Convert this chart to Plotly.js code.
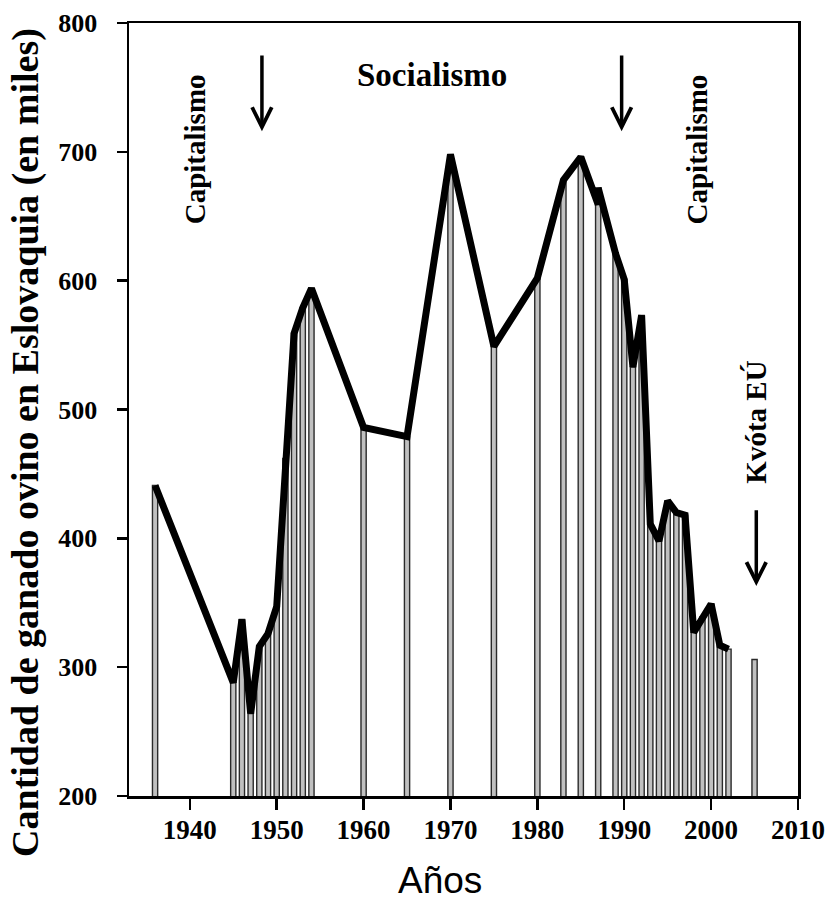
<!DOCTYPE html>
<html>
<head>
<meta charset="utf-8">
<script src="https://cdn.plot.ly/plotly-3.0.1.min.js"></script>
<style>html,body{margin:0;padding:0;background:#fff;}#chart{width:831px;height:906px;}</style>
</head>
<body>
<div id="chart"></div>
<script>
// Bars (years with a bar and its value, in thousands)
const barYears = [1936, 1945, 1946, 1947, 1948, 1949, 1950, 1951, 1952, 1953, 1954,
  1960, 1965, 1970, 1975, 1980, 1983, 1985, 1987, 1989, 1990, 1991, 1992, 1993,
  1994, 1995, 1996, 1997, 1998, 1999, 2000, 2001, 2002, 2005];
const barValues = [441, 288, 337, 264, 316, 326, 347, 462, 559, 579, 594,
  486, 479, 698, 549, 602, 678, 696, 672, 621, 601, 533, 573, 411,
  398, 429, 420, 418, 327, 339, 349, 317, 314, 306];

// Thick line
const lineYears = [1936, 1945, 1946, 1947, 1948, 1949, 1950, 1951, 1952, 1953, 1954,
  1960, 1965, 1970, 1975, 1980, 1983, 1985, 1987, 1987, 1989, 1990, 1991, 1992,
  1993, 1994, 1995, 1996, 1997, 1998, 1999, 2000, 2001, 2002];
const lineValues = [441, 288, 337, 264, 316, 326, 347, 462, 559, 579, 594,
  486, 479, 698, 549, 602, 678, 696, 659, 672, 621, 601, 533, 573,
  411, 398, 429, 420, 418, 327, 339, 349, 317, 314];

// Period labels
const labelTexts = ["Capitalismo", "Socialismo", "Capitalismo", "Kvóta EÚ"];
const labelYears = [1940.6, 1967.9, 1998.4, 2005.2];
const labelValues = [702, 760, 702, 490];
const labelAngles = [-90, 0, -90, -90];
const labelSizes = [29, 33, 29, 29];

// Arrows (tail -> tip)
const arrowYears = [1948.3, 1989.7, 2005.2];
const arrowTail = [776, 776, 423];
const arrowTip = [716, 716, 363];

const xTitle = "Años";
const yTitle = "Cantidad de ganado ovino en Eslovaquia (en miles)";

const serif = "Liberation Serif, Times New Roman, serif";

const traces = [
  {
    type: 'bar', x: barYears, y: barValues, width: 0.6,
    marker: {color: '#c0c0c0', line: {color: '#2a2a2a', width: 1.4}},
    hoverinfo: 'x+y', showlegend: false
  },
  {
    type: 'scatter', mode: 'lines', x: lineYears, y: lineValues,
    line: {color: '#000000', width: 7}, showlegend: false
  }
];

const annotations = [];
for (let i = 0; i < labelTexts.length; i++) {
  annotations.push({
    xref: 'x', yref: 'y', x: labelYears[i], y: labelValues[i],
    text: labelTexts[i], textangle: labelAngles[i], showarrow: false,
    font: {family: serif, size: labelSizes[i], weight: 'bold', color: '#000'}
  });
}
for (let i = 0; i < arrowYears.length; i++) {
  annotations.push({
    xref: 'x', yref: 'y', axref: 'x', ayref: 'y',
    x: arrowYears[i], y: arrowTip[i], ax: arrowYears[i], ay: arrowTail[i],
    text: '', showarrow: true, arrowhead: 5, arrowsize: 1.1, arrowwidth: 3.5,
    arrowcolor: '#000', standoff: 0
  });
}
// x-axis title (slightly left of the plot centre, as in the original)
annotations.push({
  xref: 'x', yref: 'paper', x: 1968.8, y: -0.109, yanchor: 'middle',
  text: xTitle, showarrow: false,
  font: {family: 'Liberation Sans, Arial, sans-serif', size: 37, color: '#000'}
});
// y-axis title (slightly below the plot centre, as in the original)
annotations.push({
  xref: 'paper', yref: 'paper', x: -0.154, y: 0.458, xanchor: 'center', yanchor: 'middle',
  text: yTitle, textangle: -90, showarrow: false,
  font: {family: serif, size: 38, weight: 'bold', color: '#000'}
});

const layout = {
  width: 831, height: 906,
  margin: {l: 129, r: 33, t: 23, b: 110},
  paper_bgcolor: '#fff', plot_bgcolor: '#fff',
  bargap: 0,
  xaxis: {
    range: [1933, 2010], tick0: 1940, dtick: 10, tickmode: 'linear',
    showgrid: false, zeroline: false,
    showline: true, linecolor: '#000', linewidth: 2.5, mirror: true,
    ticks: 'outside', ticklen: 11, tickwidth: 2.5, tickcolor: '#000',
    ticklabelstandoff: -3,
    tickfont: {family: serif, size: 27, weight: 'bold', color: '#000'}
  },
  yaxis: {
    range: [200, 800], tick0: 200, dtick: 100, tickmode: 'linear',
    showgrid: false, zeroline: false,
    showline: true, linecolor: '#000', linewidth: 2.5, mirror: true,
    ticks: 'outside', ticklen: 10, tickwidth: 2.5, tickcolor: '#000',
    ticklabelstandoff: 14,
    tickfont: {family: serif, size: 26, weight: 'bold', color: '#000'}
  },
  annotations: annotations
};

Plotly.newPlot('chart', traces, layout, {displayModeBar: false, staticPlot: true});
</script>
</body>
</html>
